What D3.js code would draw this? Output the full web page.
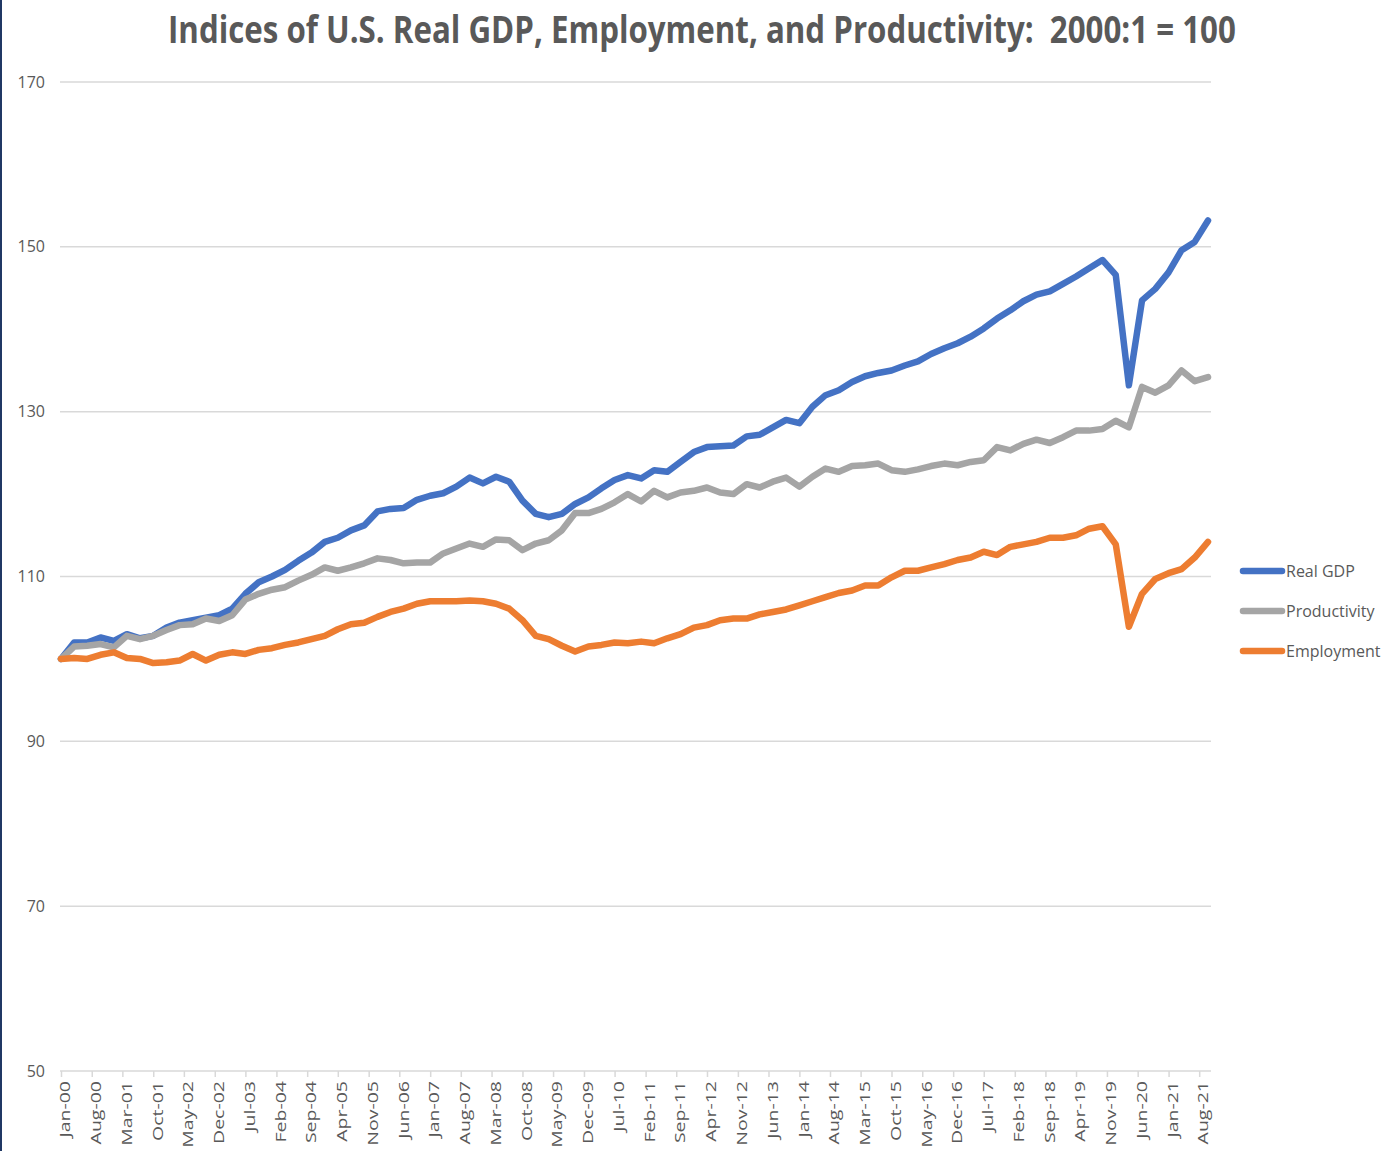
<!DOCTYPE html>
<html>
<head>
<meta charset="utf-8">
<script src="https://cdn.jsdelivr.net/npm/d3@7"></script>
<style>
    body { margin: 0; background: #fff; }
    svg { display: block; }
</style>
</head>
<body>
<div id="chart"></div>
<script>
// quarterly index values, 2000:Q1 .. 2021:Q4 (2000:1 = 100)
const realGDP = [
    100.0, 102.0, 102.0, 102.6,
    102.2, 103.0, 102.5, 102.8,
    103.8, 104.4, 104.7, 105.0,
    105.3, 106.1, 107.9, 109.3,
    110.0, 110.8, 111.9, 112.9,
    114.2, 114.7, 115.6, 116.2,
    117.9, 118.2, 118.3, 119.3,
    119.8, 120.1, 120.9, 122.0,
    121.3, 122.1, 121.5, 119.2,
    117.6, 117.2, 117.6, 118.8,
    119.6, 120.7, 121.7, 122.3,
    121.9, 122.9, 122.7, 123.9,
    125.1, 125.7, 125.8, 125.9,
    127.0, 127.2, 128.1, 129.0,
    128.6, 130.6, 132.0, 132.6,
    133.6, 134.3, 134.7, 135.0,
    135.6, 136.1, 137.0, 137.7,
    138.3, 139.1, 140.1, 141.3,
    142.3, 143.4, 144.2, 144.6,
    145.5, 146.4, 147.4, 148.4,
    146.6, 133.2, 143.5, 144.9,
    146.9, 149.6, 150.6, 153.2
]

const productivity = [
    100.0, 101.5, 101.6, 101.8,
    101.4, 102.8, 102.4, 102.8,
    103.5, 104.1, 104.2, 104.9,
    104.6, 105.3, 107.2, 107.9,
    108.4, 108.7, 109.5, 110.2,
    111.1, 110.7, 111.1, 111.6,
    112.2, 112.0, 111.6, 111.7,
    111.7, 112.8, 113.4, 114.0,
    113.6, 114.5, 114.4, 113.2,
    114.0, 114.4, 115.6, 117.7,
    117.7, 118.2, 119.0, 120.0,
    119.1, 120.4, 119.6, 120.2,
    120.4, 120.8, 120.2, 120.0,
    121.2, 120.8, 121.5, 122.0,
    120.9, 122.1, 123.1, 122.7,
    123.4, 123.5, 123.7, 122.9,
    122.7, 123.0, 123.4, 123.7,
    123.5, 123.9, 124.1, 125.7,
    125.3, 126.1, 126.6, 126.2,
    126.9, 127.7, 127.7, 127.9,
    128.9, 128.1, 133.0, 132.3,
    133.2, 135.0, 133.7, 134.2
]

const employment = [
    100.0, 100.1, 100.0, 100.5,
    100.8, 100.1, 100.0, 99.5,
    99.6, 99.8, 100.6, 99.8,
    100.5, 100.8, 100.6, 101.1,
    101.3, 101.7, 102.0, 102.4,
    102.8, 103.6, 104.2, 104.4,
    105.1, 105.7, 106.1, 106.7,
    107.0, 107.0, 107.0, 107.1,
    107.0, 106.7, 106.1, 104.7,
    102.8, 102.4, 101.6, 100.9,
    101.5, 101.7, 102.0, 101.9,
    102.1, 101.9, 102.5, 103.0,
    103.8, 104.1, 104.7, 104.9,
    104.9, 105.4, 105.7, 106.0,
    106.5, 107.0, 107.5, 108.0,
    108.3, 108.9, 108.9, 109.9,
    110.7, 110.7, 111.1, 111.5,
    112.0, 112.3, 113.0, 112.6,
    113.6, 113.9, 114.2, 114.7,
    114.7, 115.0, 115.8, 116.1,
    113.9, 103.9, 107.9, 109.7,
    110.4, 110.9, 112.3, 114.2
]

const tickLabels = [
    "Jan-00", "Aug-00", "Mar-01", "Oct-01", "May-02", "Dec-02", "Jul-03", "Feb-04",
    "Sep-04", "Apr-05", "Nov-05", "Jun-06", "Jan-07", "Aug-07", "Mar-08", "Oct-08",
    "May-09", "Dec-09", "Jul-10", "Feb-11", "Sep-11", "Apr-12", "Nov-12", "Jun-13",
    "Jan-14", "Aug-14", "Mar-15", "Oct-15", "May-16", "Dec-16", "Jul-17", "Feb-18",
    "Sep-18", "Apr-19", "Nov-19", "Jun-20", "Jan-21", "Aug-21"
]

const yTicks = [50, 70, 90, 110, 130, 150, 170]

const seriesNames = ["Real GDP", "Productivity", "Employment"]
const seriesColors = ["#4472C4", "#A5A5A5", "#ED7D31"]

const width = 1388
const height = 1151
const textColor = "#595959"
const gridColor = "#d9d9d9"

const quarters = d3.timeMonth.every(3).range(new Date(2000, 0, 1), new Date(2021, 10, 1))
const parseTick = d3.timeParse("%b-%y")

const x = d3.scaleTime()
    .domain([quarters[0], quarters[quarters.length - 1]])
    .range([61, 1208])

const y = d3.scaleLinear()
    .domain([50, 170])
    .range([1071, 82])

const svg = d3.select("#chart").append("svg")
    .attr("width", width)
    .attr("height", height)

svg.append("rect")
    .attr("width", width)
    .attr("height", height)
    .attr("fill", "#fff")

// thin dark frame edge on the left
svg.append("rect")
    .attr("x", 0)
    .attr("y", 0)
    .attr("width", 2)
    .attr("height", height)
    .attr("fill", "#203864")

// title: squeezed to the width it has in the picture
const title = svg.append("text")
    .style("white-space", "pre")
    .style("font-family", "'Liberation Sans Narrow', 'Open Sans', sans-serif")
    .style("font-weight", "bold")
    .style("font-size", "37px")
    .attr("fill", textColor)
    .text("Indices of U.S. Real GDP, Employment, and Productivity:  2000:1 = 100")

const titleLen = title.node().getComputedTextLength()
title.attr("transform", `translate(168,43) scale(${1068 / titleLen},1)`)

// horizontal gridlines
svg.append("g")
    .selectAll("line")
    .data(yTicks.filter(d => d > 50))
    .join("line")
    .attr("x1", 60)
    .attr("x2", 1211)
    .attr("y1", d => y(d))
    .attr("y2", d => y(d))
    .attr("stroke", gridColor)
    .attr("stroke-width", 1.5)

// y labels
svg.append("g")
    .selectAll("text")
    .data(yTicks)
    .join("text")
    .attr("x", 45)
    .attr("y", d => y(d))
    .attr("dy", "0.35em")
    .attr("text-anchor", "end")
    .style("font-family", "'Open Sans', sans-serif")
    .style("font-size", "16px")
    .attr("fill", textColor)
    .text(d => d)

// x axis
const xAxis = d3.axisBottom(x)
    .tickValues(tickLabels.map(parseTick))
    .tickSize(6)
    .tickFormat("")

const axisG = svg.append("g")
    .attr("transform", `translate(0,${y(50)})`)
    .call(xAxis)

axisG.select(".domain")
    .attr("d", "M60,0H1211")
    .attr("stroke", gridColor)
    .attr("stroke-width", 1.5)
axisG.selectAll(".tick line")
    .attr("stroke", gridColor)
    .attr("stroke-width", 1.5)

svg.append("g")
    .selectAll("text")
    .data(tickLabels)
    .join("text")
    .attr("transform", d => `translate(${x(parseTick(d)) + 4},${y(50) + 10}) rotate(-90) scale(1.3,1)`)
    .attr("dy", "0.35em")
    .attr("text-anchor", "end")
    .style("font-family", "'Open Sans', sans-serif")
    .style("font-size", "15px")
    .attr("fill", textColor)
    .text(d => d)

// lines
const line = d3.line()
    .x((d, i) => x(quarters[i]))
    .y(d => y(d))

const allSeries = [realGDP, productivity, employment]

svg.append("g")
    .selectAll("path")
    .data(allSeries)
    .join("path")
    .attr("d", d => line(d))
    .attr("fill", "none")
    .attr("stroke", (d, i) => seriesColors[i])
    .attr("stroke-width", 6.5)
    .attr("stroke-linejoin", "round")
    .attr("stroke-linecap", "round")

// legend
const legend = svg.append("g")
    .selectAll("g")
    .data(seriesNames)
    .join("g")
    .attr("transform", (d, i) => `translate(1243,${571 + i * 40})`)

legend.append("line")
    .attr("x1", 0)
    .attr("x2", 39)
    .attr("stroke", (d, i) => seriesColors[i])
    .attr("stroke-width", 6.5)
    .attr("stroke-linecap", "round")

legend.append("text")
    .attr("x", 43)
    .attr("dy", "0.35em")
    .style("font-family", "'Open Sans', sans-serif")
    .style("font-size", "16px")
    .attr("fill", textColor)
    .text(d => d)
</script>
</body>
</html>
